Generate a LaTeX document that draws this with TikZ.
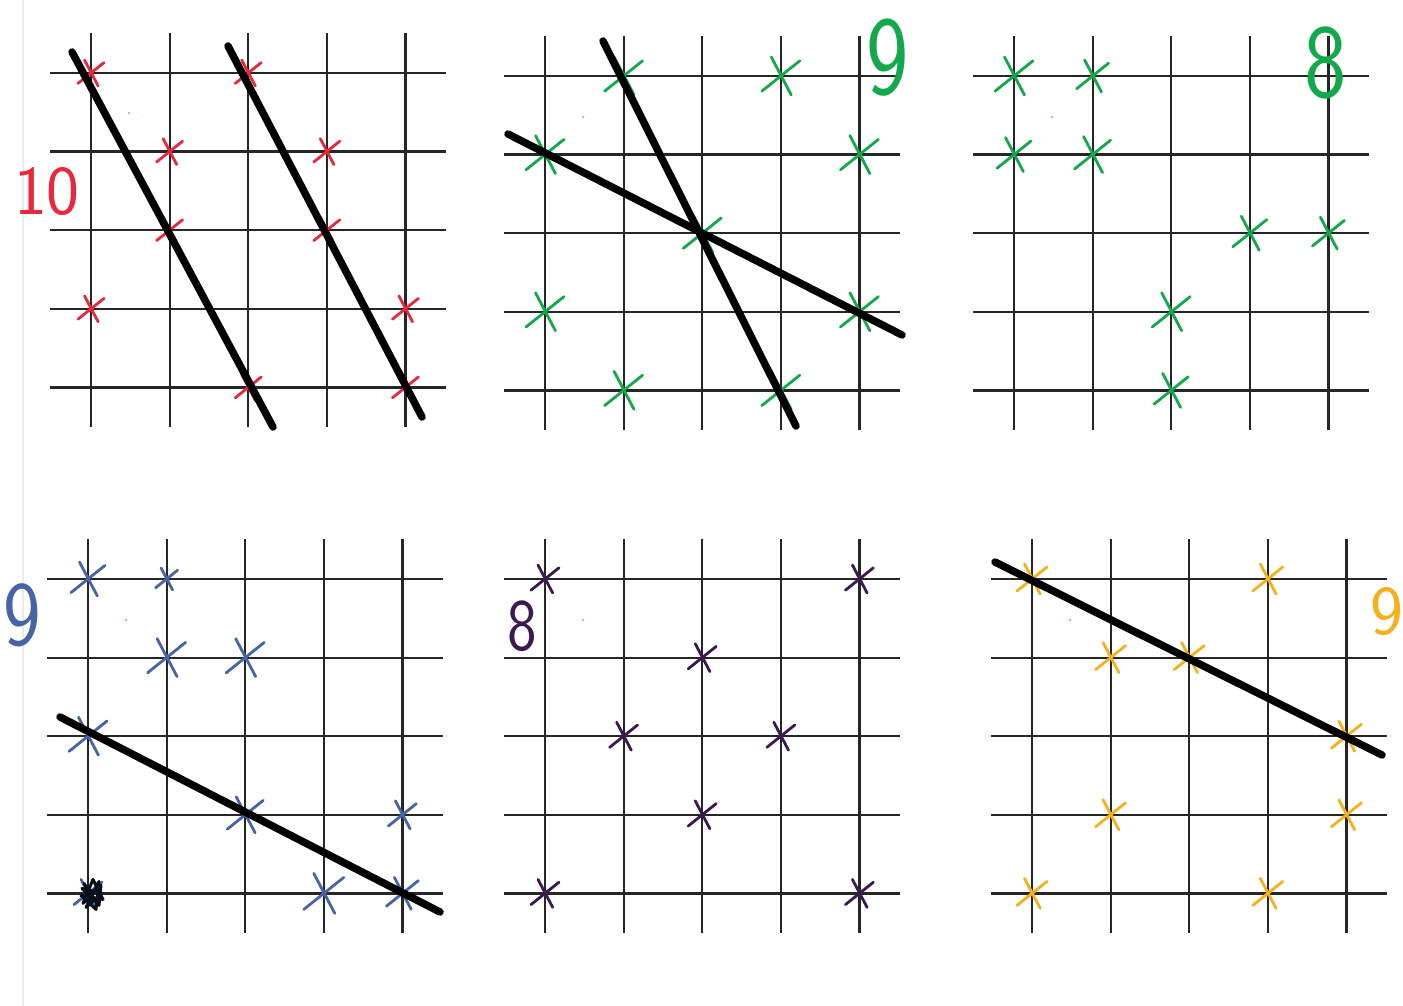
\documentclass[tikz,border=0pt]{standalone}
\usepackage{fontspec}
\definecolor{xred}{RGB}{232,40,60}
\definecolor{xgreen}{RGB}{20,168,76}
\definecolor{xblue}{RGB}{72,100,165}
\definecolor{xpurple}{RGB}{60,25,80}
\definecolor{xorange}{RGB}{245,176,30}
\definecolor{dotc}{RGB}{245,165,145}
\tikzset{
  gridline/.style={line width=2.2pt, black!85},
  fitline/.style={line width=7.5pt, black, line cap=round},
  crossline/.style={line width=2.8pt, line cap=round},
  digit/.style={inner sep=0pt, font=\sffamily\fontsize{70}{70}\selectfont},
  tinydot/.style={fill=dotc, draw=none}
}
\newcommand{\gridfive}{%
  \foreach \i in {0,...,4}{%
    \draw[gridline] (\i*78.6,-40) -- (\i*78.6,354);
    \draw[gridline] (-41,\i*78.6) -- (355,\i*78.6);
  }}
\newcommand{\xmk}[3]{%
  \draw[crossline] ({#1*78.6-#3},{#2*78.6+0.8*#3}) -- ({#1*78.6+#3},{#2*78.6-0.8*#3})
                   ({#1*78.6-0.5*#3},{#2*78.6-#3}) -- ({#1*78.6+0.55*#3},{#2*78.6+#3});}
\begin{document}
\begin{tikzpicture}[x=1pt,y=-1pt]
\fill[white] (0,0) rectangle (1403,1006);
\useasboundingbox (0,0) rectangle (1403,1006);
\draw[line width=1.5pt, black!8] (23,0) -- (23,1006);

% grid 1 (red)
\begin{scope}[shift={(91,73)}, xred]
  \gridfive
  \foreach \c/\r in {0/0,1/1,1/2,0/3,2/4,2/0,3/1,3/2,4/3,4/4}{\xmk{\c}{\r}{13}}
\end{scope}
% grid 2 (green)
\begin{scope}[shift={(545,76)}, xgreen]
  \gridfive
  \foreach \c/\r in {1/0,3/0,0/1,4/1,2/2,0/3,4/3,1/4,3/4}{\xmk{\c}{\r}{19}}
\end{scope}
% grid 3 (green)
\begin{scope}[shift={(1014,76)}, xgreen]
  \gridfive
  \foreach \c/\r/\s in {0/0/19,1/0/16,0/1/17,1/1/18,3/2/17,4/2/16,2/3/19,2/4/17}{\xmk{\c}{\r}{\s}}
\end{scope}
% grid 4 (blue)
\begin{scope}[shift={(88,579)}, xblue]
  \gridfive
  \foreach \c/\r/\s in {0/0/17,1/0/11,1/1/19,2/1/19,0/2/19,2/3/18,4/3/14,3/4/20,4/4/16,0/4/14}{\xmk{\c}{\r}{\s}}
  \begin{scope}[shift={(3,314.4)}]
  \draw[line width=3pt, black!85!xblue, line cap=round, line join=round]
    (-7,-10) -- (8,12) -- (10,-8) -- (-8,10) -- (2,-14) -- (12,6) -- (-10,2) -- (5,16) -- (8,-12) -- (-5,14) -- (11,0) -- (-9,-5) -- (4,8);
  \end{scope}
\end{scope}
% grid 5 (purple)
\begin{scope}[shift={(545,579)}, xpurple]
  \gridfive
  \foreach \c/\r in {0/0,4/0,2/1,1/2,3/2,2/3,0/4,4/4}{\xmk{\c}{\r}{14}}
\end{scope}
% grid 6 (orange)
\begin{scope}[shift={(1032,579)}, xorange]
  \gridfive
  \foreach \c/\r in {0/0,3/0,1/1,2/1,4/2,1/3,4/3,0/4,3/4}{\xmk{\c}{\r}{15}}
\end{scope}

% fitted lines
\coordinate (a1) at (72,52);   \coordinate (a2) at (273,427);
\coordinate (b1) at (228,46);  \coordinate (b2) at (422,417);
\coordinate (c1) at (603,41);  \coordinate (c2) at (796,426);
\coordinate (d1) at (508,134); \coordinate (d2) at (902,335);
\coordinate (e1) at (60,717);  \coordinate (e2) at (440,912);
\coordinate (f1) at (995,562); \coordinate (f2) at (1382,755);
\foreach \p in {a,b,c,d,e,f}{\draw[fitline] (\p1) -- (\p2);}

% tiny dots
\foreach \x/\y in {129/113,583/117,1052/117,126/620,583/620,1070/620}{\fill[tinydot] (\x,\y) circle (1.3);}

% labels
\node[digit, text=xred] (l10) at (47,192) {10};
\node[digit, text=xgreen, font=\sffamily\fontsize{90}{90}\selectfont, yscale=1.25] (l9a) at (888,58) {9};
\node[digit, text=xgreen, font=\sffamily\fontsize{90}{90}\selectfont, yscale=1.17] (l8a) at (1326,63) {8};
\node[digit, text=xblue, font=\sffamily\fontsize{80}{80}\selectfont, yscale=1.15] (l9b) at (22,615) {9};
\node[digit, text=xpurple, font=\sffamily\fontsize{74}{74}\selectfont, xscale=0.85] (l8b) at (522,626) {8};
\node[digit, text=xorange] (l9c) at (1387,612) {9};
\end{tikzpicture}
\end{document}
